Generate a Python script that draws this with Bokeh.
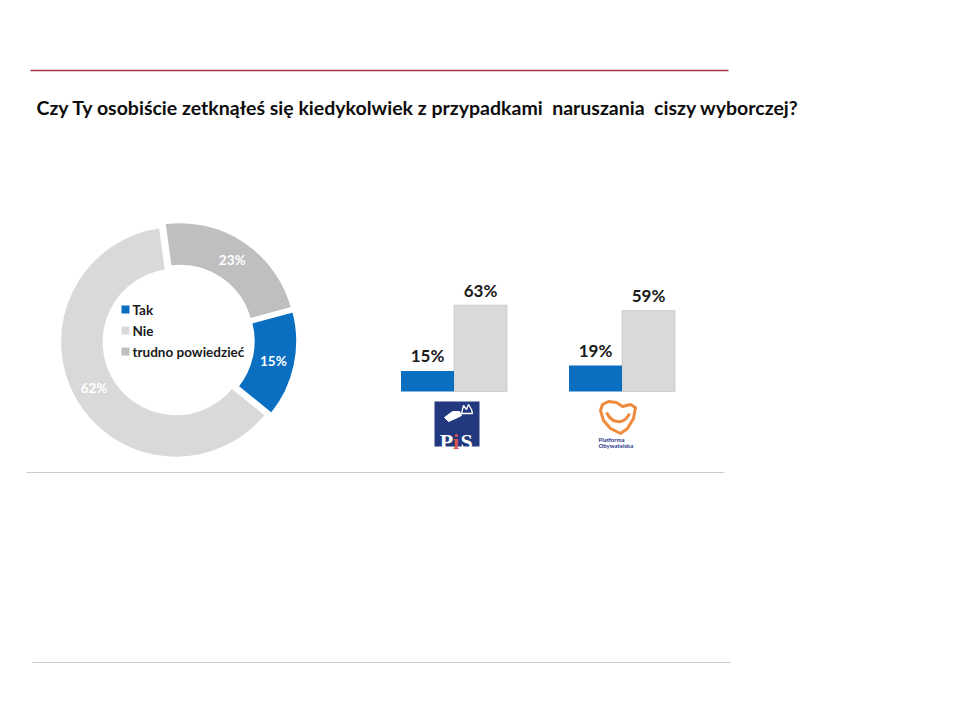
import numpy as np
from bokeh.plotting import figure
from bokeh.models import Range1d
from bokeh.core.properties import value
from bokeh.embed import file_html
from bokeh.resources import INLINE

# ---------------- data ----------------
title_text = "Czy Ty osobiście zetknąłeś się kiedykolwiek z przypadkami\u00a0 naruszania\u00a0 ciszy wyborczej?"
answers = ["Tak", "Nie", "trudno powiedzieć"]
overall_pct = [15, 62, 23]
party_names = ["PiS", "PO"]
party_tak = [15, 19]
party_nie = [63, 59]

# ---------------- styles ----------------
c_blue = "#0b6fc1"
c_light = "#d9d9d9"
c_mid = "#bfbfbf"
slice_colors = [c_blue, c_light, c_mid]
FONT = value("Lato")

W, H = 944, 704
p = figure(width=W, height=H, x_range=Range1d(0, W), y_range=Range1d(H, 0),
           x_axis_type=None, y_axis_type=None, toolbar_location=None,
           output_backend="svg", min_border=0, outline_line_color=None)
p.grid.visible = False
p.background_fill_color = "white"

# bar value range: value v -> screen y = base_y - k*v
base_y, k = 391.0, 1.37
p.extra_y_ranges = {"bars": Range1d(start=(base_y - H) / k, end=(base_y - 0) / k)}

# ---------------- rules ----------------
p.segment(x0=[30], y0=[70], x1=[728], y1=[70], line_color="#a8343f", line_width=1.6)
p.segment(x0=[26, 32], y0=[472, 662], x1=[724, 730], y1=[472, 662], line_color="#cccccc", line_width=1.2)

# ---------------- title ----------------
p.text(x=[36], y=[107], text=[title_text], text_font=FONT, text_font_style="bold",
       text_font_size="19.5px", text_color="#0d0d0d", text_baseline="middle", text_align="left")

# ---------------- donut ----------------
cx, cy, R, r, explode = 178.0, 340.0, 116.0, 72.0, 3.0
first_angle = 75.0  # clockwise from top, degrees
vals = np.array(overall_pct, dtype=float)
frac = vals / vals.sum()
cum = np.concatenate([[0.0], np.cumsum(frac)])
a_start = first_angle + 360.0 * cum[:-1]
a_end = first_angle + 360.0 * cum[1:]
a_mid = (a_start + a_end) / 2.0
mid_rad = np.radians(a_mid)
xs = cx + explode * np.sin(mid_rad)
ys = cy - explode * np.cos(mid_rad)
p.annular_wedge(x=list(xs), y=list(ys), inner_radius=r, outer_radius=R,
                inner_radius_units="screen", outer_radius_units="screen",
                start_angle=list(np.radians(90.0 - a_start)), end_angle=list(np.radians(90.0 - a_end)),
                direction="clock", fill_color=slice_colors, line_color="white", line_width=2.5)
rl = (R + r) / 2.0
lx = xs + rl * np.sin(mid_rad)
ly = ys - rl * np.cos(mid_rad)
p.text(x=list(lx), y=list(ly), text=[f"{v}%" for v in overall_pct], text_font=FONT,
       text_font_style="bold", text_font_size="13.5px", text_color="white",
       text_align="center", text_baseline="middle")

# legend inside the hole
leg_x, leg_y0, leg_dy = 125, 309, 21
leg_y = [leg_y0 + i * leg_dy for i in range(len(answers))]
p.scatter(x=[leg_x] * len(answers), y=leg_y, marker="square", size=8,
          fill_color=slice_colors, line_color=None)
p.text(x=[leg_x + 7] * len(answers), y=leg_y, text=answers, text_font=FONT,
       text_font_style="bold", text_font_size="13.5px", text_color="#1a1a1a",
       text_align="left", text_baseline="middle")

# ---------------- bars ----------------
group_x = [427.0, 595.0]
bw = 53.0
tak_x = [g for g in group_x]
nie_x = [g + bw for g in group_x]
p.vbar(x=nie_x, width=bw, top=party_nie, bottom=0, y_range_name="bars",
       fill_color=c_light, line_color="#cfcfcf", line_width=1)
p.vbar(x=tak_x, width=bw, top=party_tak, bottom=0, y_range_name="bars",
       fill_color=c_blue, line_color=None)
p.text(x=tak_x + nie_x, y=party_tak + party_nie, text=[f"{v}%" for v in party_tak + party_nie],
       y_range_name="bars", y_offset=-15, text_font=FONT, text_font_style="bold",
       text_font_size="17px", text_color="#1a1a1a", text_align="center", text_baseline="middle")

# ---------------- party logos ----------------
# PiS
p.rect(x=[456.5], y=[423.5], width=45, height=45, fill_color="#22387f", line_color=None)
p.patch(x=[461, 463, 466, 468, 471, 472, 462], y=[413, 405, 409, 404, 409, 413, 413],
        fill_color="#22387f", line_color="white", line_width=1.3)
p.patch(x=[444, 452, 459, 461, 455, 448], y=[417, 411, 411, 415, 418, 421],
        fill_color="white", line_color="white", line_width=1)
p.text(x=[446, 455.5, 466], y=[441, 441, 441], text=["P", "i", "S"],
       text_font=value("Liberation Serif"), text_font_style="bold", text_font_size="22px",
       text_color=["white", "#d9534f", "white"], text_align="center", text_baseline="alphabetic")

# PO
p.patch(x=[602, 608, 616, 622, 630, 635, 633, 627, 620, 610, 603, 600],
        y=[404, 401, 402, 406, 404, 407, 418, 428, 433, 428, 420, 410],
        fill_color=None, line_color="#f08a3c", line_width=3)
p.bezier(x0=[606], y0=[412], x1=[629], y1=[413], cx0=[612], cy0=[424], cx1=[624], cy1=[424],
         line_color="#f08a3c", line_width=3)
p.text(x=[598, 598], y=[439, 445], text=["Platforma", "Obywatelska"], text_font=FONT,
       text_font_style="bold", text_font_size="6px", text_color="#2b3a8a",
       text_align="left", text_baseline="middle")

open("out.html", "w").write(file_html(p, INLINE))
